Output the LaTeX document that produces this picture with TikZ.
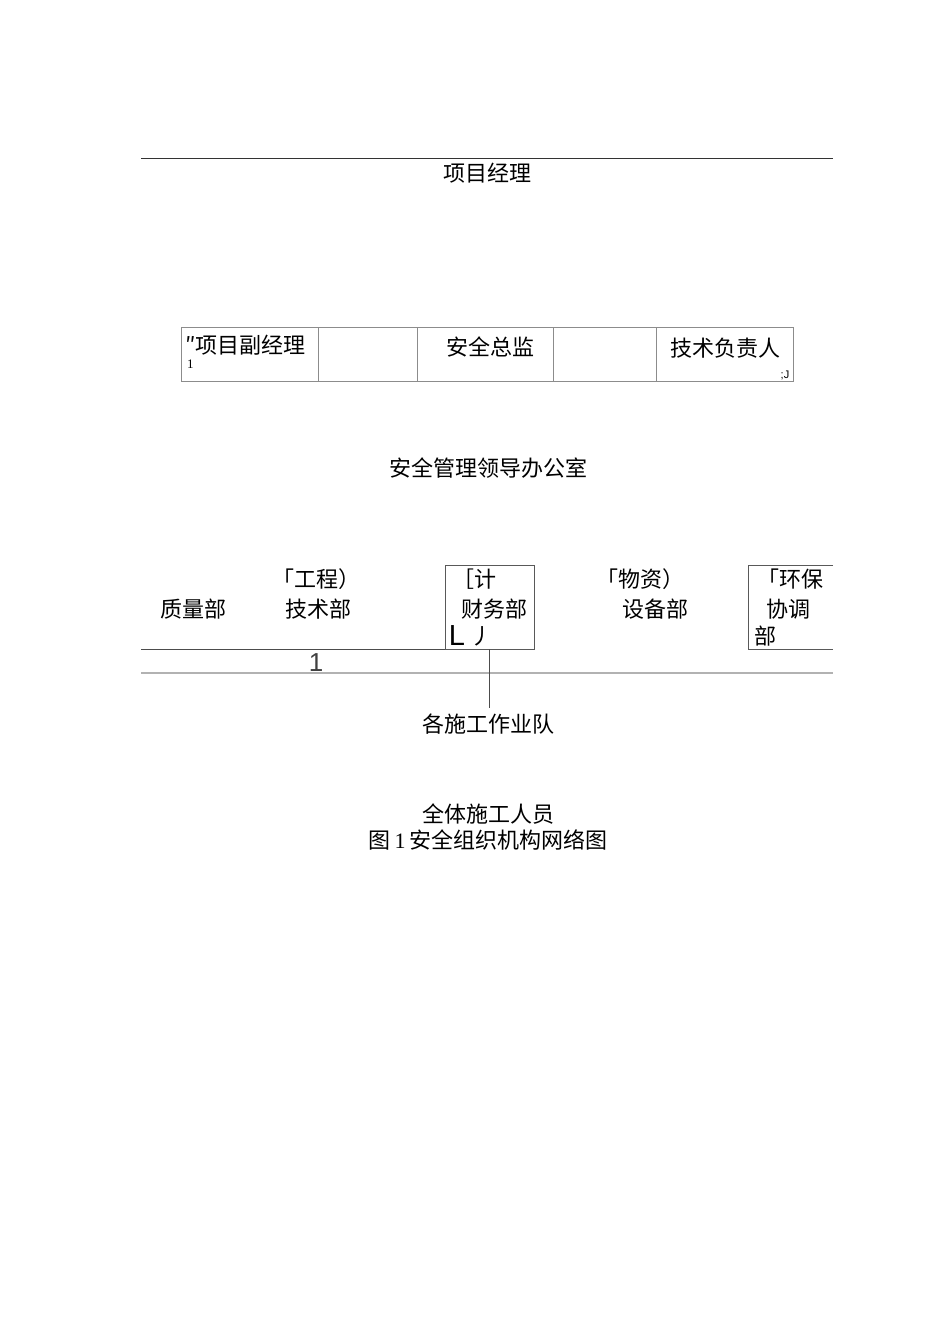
\documentclass[tikz,border=0pt]{standalone}
\usepackage{fontspec}
\setmainfont{Liberation Serif}
\newfontfamily\cjk{Noto Sans CJK SC}
\newfontfamily\arialfont{Liberation Sans}
\usetikzlibrary{positioning}
\usetikzlibrary{calc}

\begin{document}
\begin{tikzpicture}[x=1pt,y=-1pt]
\tikzset{
label/.style = {inner sep=0pt,
                font=\fontsize{22}{24}\selectfont\cjk},
cell/.style  = {rectangle,draw=black!45,
                line width=1pt,
                minimum height=54pt,
                outer sep=0pt,
                inner sep=0pt},
frame/.style = {rectangle,draw=black!65,
                line width=1pt,
                minimum width=89pt,
                minimum height=84pt,
                outer sep=0pt},
tiny/.style  = {inner sep=0pt,
                font=\fontsize{13}{14}\selectfont}
}

\useasboundingbox (0,0) rectangle (950,1344);

% top rule and manager
\coordinate (TL) at (141,158);
\coordinate (TR) at (833,158);
\draw[black!80,line width=1pt] (TL) -- (TR);
\node[label] (PM) at (487,173) {项目经理};

% row of deputies
\node[cell,minimum width=137pt] (C1) at (249.5,354) {};
\node[cell,minimum width=99pt,right=0pt of C1]  (C2) {};
\node[cell,minimum width=136pt,right=0pt of C2] (C3) {};
\node[cell,minimum width=103pt,right=0pt of C3] (C4) {};
\node[cell,minimum width=137pt,right=0pt of C4] (C5) {};

\node[label,anchor=west] (DPM) at (185,345) {″项目副经理};
\node[tiny,anchor=west]  (DPMn) at (187,364) {1};
\node[tiny,font=\fontsize{11}{12}\selectfont\arialfont] (TDn) at (785,375) {;J};
\node[label] (SD) at (490,347) {安全总监};
\node[label] (TD) at (725,348) {技术负责人};

\node[label] (OFF) at (488,468) {安全管理领导办公室};

% departments
\node[frame] (FIN) at (489.5,607) {};
\coordinate (EL) at (748,565);
\coordinate (ER) at (833,565);
\draw[black!65,line width=1pt] (ER) -- (EL) -- (EL |- FIN.south) -- (ER |- FIN.south);

\node[label] (QA)   at (193,609) {质量部};
\node[label] (ENGa) at (316,579) {「工程）};
\node[label] (ENGb) at (318,609) {技术部};
\node[label] (FINa) at (474,579) {［计};
\node[label] (FINb) at (494,609) {财务部};
\node[inner sep=0pt,font=\fontsize{29}{30}\selectfont\arialfont] (FINc) at (457,636) {L};
\node[label] (FINd) at (481,636) {丿};
\node[label] (MATa) at (640,579) {「物资）};
\node[label] (MATb) at (655,609) {设备部};
\node[label] (ENVa) at (790,579) {「环保};
\node[label] (ENVb) at (788,609) {协调};
\node[label] (ENVc) at (765,636) {部};

% rules under departments
\coordinate (BL) at (141,649);
\draw[black!70,line width=1pt] (BL) -- (FIN.south west);
\coordinate (GL) at (141,673);
\coordinate (GR) at (833,673);
\draw[black!30,line width=2pt] (GL) -- (GR);
\node[inner sep=0pt,text=black!75,font=\fontsize{26}{28}\selectfont\arialfont] (ONE) at (316,663) {1};

% teams and staff
\node[label,inner sep=6pt] (TEAM) at (488,724) {各施工作业队};
\draw[black!70,line width=0.8pt] (FIN.south) -- (FIN.south |- TEAM.north);
\node[label] (STAFF) at (488,814) {全体施工人员};
\node[label] (CAP)   at (488,840) {图\,{\fontspec{Liberation Serif}1}\,安全组织机构网络图};
\end{tikzpicture}
\end{document}
